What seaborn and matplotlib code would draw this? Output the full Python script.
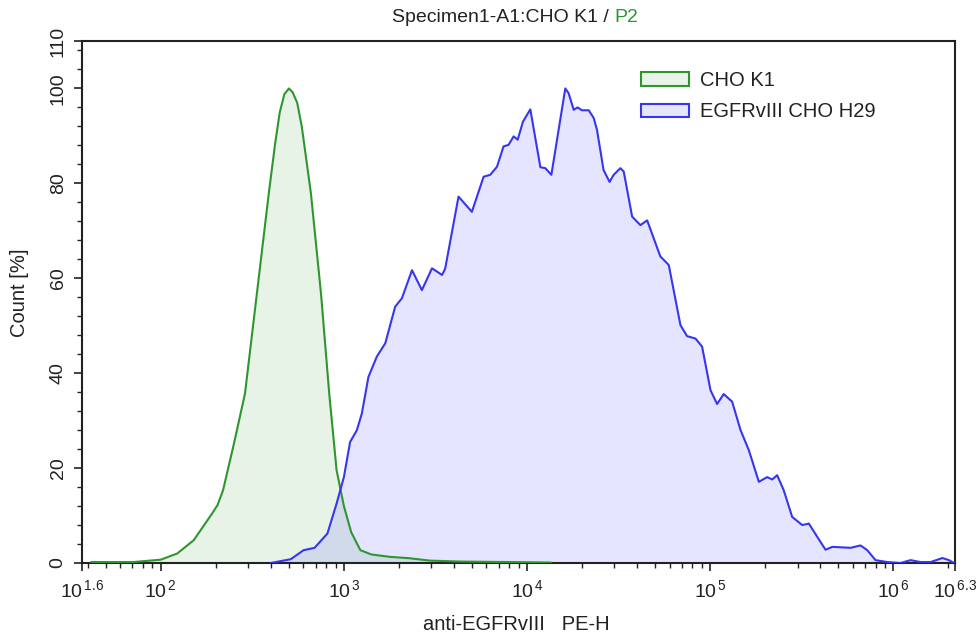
import numpy as np
import pandas as pd
import matplotlib
matplotlib.use("Agg")
import matplotlib.pyplot as plt
import matplotlib.ticker as mticker
from matplotlib.patches import Patch
import seaborn as sns

# ---------------- data (log10 of intensity, count %) ----------------
cho_log = [1.62, 1.85, 2.00, 2.09, 2.18, 2.23, 2.28, 2.31, 2.34, 2.40, 2.46, 2.525,
           2.59, 2.625, 2.65, 2.675, 2.70, 2.72, 2.745, 2.77, 2.82, 2.875, 2.92, 2.96,
           3.00, 3.04, 3.09, 3.15, 3.25, 3.36, 3.47, 3.64, 3.90, 4.13]
cho_count = [0.2, 0.2, 0.7, 2.0, 4.8, 7.6, 10.4, 12.2, 15.3, 25.2, 35.7, 56.8,
             77.9, 88.5, 95.0, 98.8, 100, 99.2, 97, 92, 77.9, 56.8, 35.7, 19.6,
             12.0, 6.5, 2.7, 1.8, 1.3, 1.0, 0.5, 0.3, 0.2, 0.1]

egfr_log = [2.60, 2.71, 2.78, 2.84, 2.91, 2.96, 3.00, 3.034, 3.071, 3.098, 3.134, 3.18,
            3.226, 3.28, 3.317, 3.372, 3.426, 3.481, 3.536, 3.553, 3.626, 3.699, 3.763,
            3.799, 3.836, 3.872, 3.899, 3.927, 3.949, 3.978, 4.018, 4.073, 4.100, 4.133,
            4.209, 4.227, 4.255, 4.276, 4.300, 4.337, 4.364, 4.382, 4.418, 4.451, 4.473,
            4.510, 4.528, 4.574, 4.619, 4.656, 4.728, 4.774, 4.838, 4.874, 4.920, 4.956,
            5.002, 5.038, 5.074, 5.120, 5.166, 5.211, 5.266, 5.311, 5.339, 5.366, 5.402,
            5.448, 5.503, 5.539, 5.585, 5.630, 5.667, 5.767, 5.821, 5.858, 5.903, 5.967,
            6.040, 6.094, 6.149, 6.204, 6.268, 6.304, 6.331]
egfr_count = [0.0, 0.8, 2.7, 3.2, 6.2, 12.5, 18.1, 25.5, 28.0, 31.5, 39.2, 43.5,
              46.3, 54.0, 55.8, 61.7, 57.5, 62.1, 60.7, 62.0, 77.2, 74.0, 81.4,
              81.8, 83.5, 87.8, 88.1, 89.9, 89.2, 93.0, 95.6, 83.4, 83.2, 81.8,
              100.0, 99.0, 95.5, 96.0, 95.4, 95.4, 93.8, 91.3, 82.8, 80.3, 81.8,
              83.2, 82.5, 73.0, 71.2, 72.2, 64.6, 62.8, 50.1, 47.8, 47.3, 45.6,
              36.4, 33.5, 35.6, 34.0, 28.0, 23.8, 17.1, 18.1, 17.6, 18.5, 15.3,
              9.7, 8.0, 8.3, 5.5, 2.8, 3.4, 3.2, 3.7, 2.7, 0.6, 0.2,
              0.0, 0.6, 0.2, 0.2, 1.05, 0.6, 0.0]

series_names = ["CHO K1", "EGFRvIII CHO H29"]
line_colors = ["#2f962f", "#3636f0"]
fill_colors = ["#228b22", "#0000ff"]

x_tick_exps = [1.57, 2, 3, 4, 5, 6, 6.337]
x_tick_labels = [r"$10^{\,1.6}$", r"$10^{\,2}$", r"$10^{\,3}$", r"$10^{\,4}$",
                 r"$10^{\,5}$", r"$10^{\,6}$", r"$10^{\,6.3}$"]
y_ticks = [0, 20, 40, 60, 80, 100, 110]

title_main = "Specimen1-A1:CHO K1 / "
title_gate = "P2"
x_label = "anti-EGFRvIII   PE-H"
y_label = "Count [%]"

# ---------------- build frame ----------------
df = pd.concat([
    pd.DataFrame({"intensity": np.power(10.0, cho_log), "count": cho_count, "sample": series_names[0]}),
    pd.DataFrame({"intensity": np.power(10.0, egfr_log), "count": egfr_count, "sample": series_names[1]}),
], ignore_index=True)

sns.set_style("ticks")
plt.rcParams["font.family"] = ["Liberation Sans", "DejaVu Sans"]
plt.rcParams["mathtext.fontset"] = "custom"
plt.rcParams["mathtext.rm"] = "Liberation Sans"
plt.rcParams["mathtext.it"] = "Liberation Sans"
plt.rcParams["mathtext.default"] = "regular"

W, H = 979, 637
fig = plt.figure(figsize=(W / 100, H / 100), dpi=100)
L, R, T, B = 82, 955, 41, 563
ax = fig.add_axes([L / W, 1 - B / H, (R - L) / W, (B - T) / H])

# fills first
for name, fc in zip(series_names, fill_colors):
    sub = df[df["sample"] == name]
    ax.fill_between(sub["intensity"], 0, sub["count"], color=fc, alpha=0.1, linewidth=0, zorder=1)

sns.lineplot(data=df, x="intensity", y="count", hue="sample", hue_order=series_names,
             palette=line_colors, linewidth=1.5, legend=False, ax=ax, sort=False,
             estimator=None, zorder=3)

ax.set_xscale("log")
ax.set_xlim(10 ** 1.57, 10 ** 6.337)
ax.set_ylim(0, 110)

ax.xaxis.set_major_locator(mticker.FixedLocator([10 ** e for e in x_tick_exps]))
ax.xaxis.set_major_formatter(mticker.FixedFormatter(x_tick_labels))
ax.xaxis.set_minor_locator(mticker.LogLocator(base=10, subs=np.arange(2, 10), numticks=20))
ax.xaxis.set_minor_formatter(mticker.NullFormatter())

ax.yaxis.set_major_locator(mticker.FixedLocator(y_ticks))
ax.yaxis.set_minor_locator(mticker.MultipleLocator(4))
ax.set_yticklabels([str(v) for v in y_ticks], rotation=90, va="center")

ax.tick_params(axis="both", which="major", direction="out", length=6, width=1.2,
               color="#222222", labelsize=14, labelcolor="#222222")
ax.tick_params(axis="both", which="minor", direction="out", length=3.5, width=1.0, color="#222222")
ax.tick_params(axis="x", pad=6)
ax.tick_params(axis="y", pad=5)
for s in ax.spines.values():
    s.set_visible(True)
    s.set_linewidth(1.5)
    s.set_color("#222222")

ax.set_xlabel("")
ax.set_ylabel("")
fig.text(516.5 / W, 1 - 625 / H, x_label, ha="center", va="center", fontsize=14.5, color="#222222")
fig.text(20 / W, 1 - 293 / H, y_label, ha="center", va="center", rotation=90, fontsize=14.5, color="#222222")

t1 = fig.text(392 / W, 1 - 17 / H, title_main, ha="left", va="center", fontsize=14, color="#222222")
ax.annotate(title_gate, xy=(1, 0), xycoords=t1, ha="left", va="bottom", fontsize=14, color="#2f962f")

handles = [Patch(facecolor=fc, edgecolor=lc, alpha=None, linewidth=1.5) for fc, lc in zip(["#e9f3e9", "#e6e6fb"], line_colors)]
leg = ax.legend(handles, series_names, loc="upper left", bbox_to_anchor=((641 - L) / (R - L), (B - 71) / (B - T)),
                frameon=False, fontsize=14.5, handlelength=2.4, handleheight=0.65, handletextpad=0.55,
                labelspacing=0.62, borderpad=0, borderaxespad=0)
for t in leg.get_texts():
    t.set_color("#222222")

fig.savefig("out.png", dpi=100)
